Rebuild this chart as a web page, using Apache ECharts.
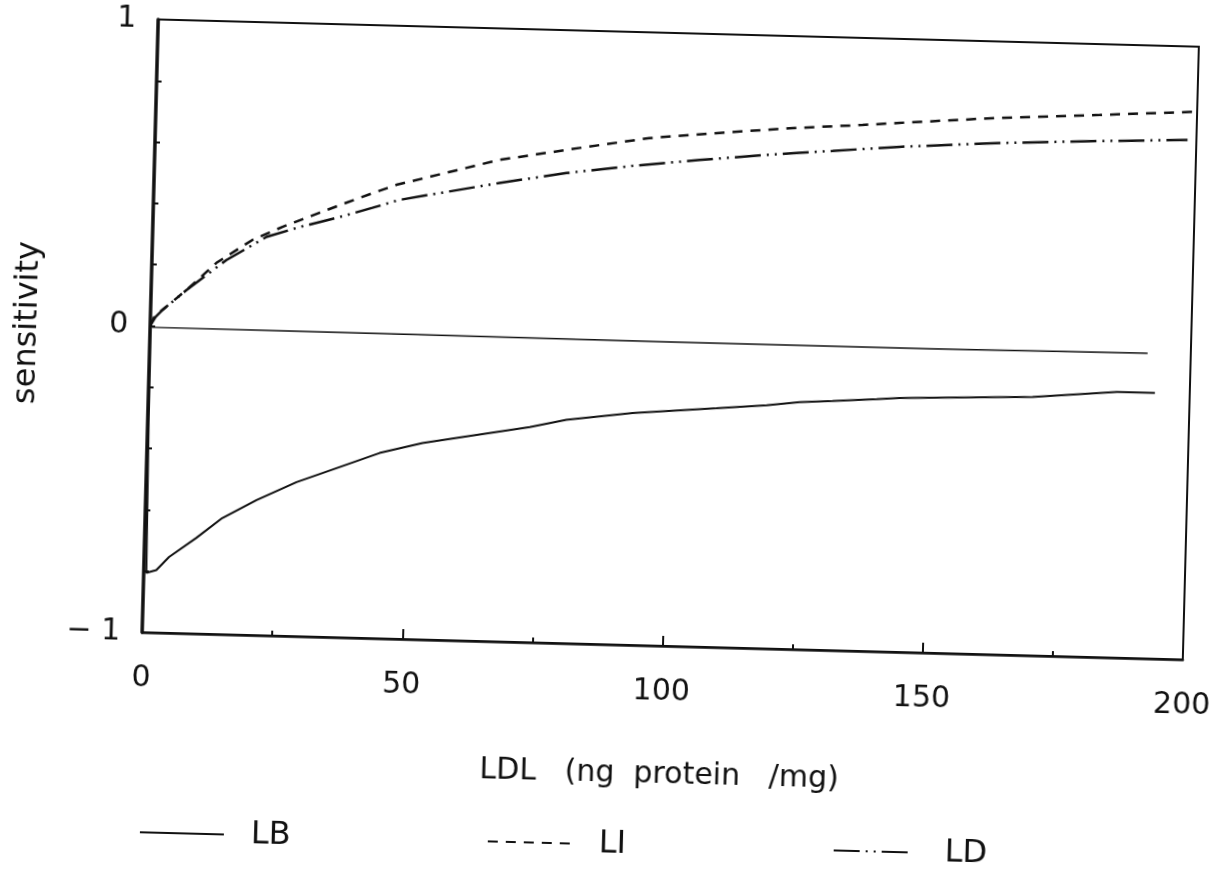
<!DOCTYPE html>
<html>
	<head>
		<meta charset="UTF-8">
		<title>sensitivity</title>
		<style>
			html, body { margin: 0; padding: 0; background: #fff; overflow: hidden; }
			/* the scan is tilted a little, so the whole chart is too */
			#chart { width: 1226px; height: 876px; transform: rotate(1.5deg); transform-origin: 671px 339.5px; }
		</style>
	</head>
	<body>
		<div id="chart"></div>

		<script type="text/javascript" src="https://cdn.jsdelivr.net/npm/echarts@6.0.0/dist/echarts.min.js"></script>
		<script type="text/javascript">
			// values: [LDL, sensitivity]
			var lbData = [[0, 0], [0.5, -0.806], [2.4, -0.796], [4.8, -0.752], [9.9, -0.688], [14.8, -0.621], [21.3, -0.559],
				[28.9, -0.497], [36.5, -0.448], [44.7, -0.395], [52.9, -0.359], [60.5, -0.336], [73.4, -0.298], [80.4, -0.271],
				[93.1, -0.243], [109.2, -0.220], [118.8, -0.206], [125.1, -0.193], [131.4, -0.187], [139.9, -0.177],
				[144.3, -0.171], [163.5, -0.160], [169.8, -0.157], [186.0, -0.133], [193.3, -0.133]];
			var liData = [[0, 0], [0.75, 0.03], [2.25, 0.053], [6.8, 0.12], [12.4, 0.211], [19.2, 0.289], [24.9, 0.334],
				[31.9, 0.383], [39.5, 0.435], [46.6, 0.481], [66.2, 0.571], [81.6, 0.617], [94.9, 0.655], [108.4, 0.678],
				[122.4, 0.700], [135.8, 0.716], [142.9, 0.726], [162.1, 0.751], [181.3, 0.769], [199.1, 0.787]];
			var ldData = [[0, 0], [1, 0.03], [2.3, 0.053], [6.8, 0.12], [14.3, 0.221], [21.9, 0.300], [28.2, 0.335],
				[35.8, 0.371], [42.1, 0.404], [47.2, 0.432], [66.4, 0.496], [79.2, 0.534], [91.8, 0.563], [104.7, 0.588],
				[117.5, 0.610], [123.8, 0.620], [130.2, 0.629], [143.0, 0.648], [162.2, 0.669], [181.4, 0.684], [198.3, 0.695]];
			// the flat line near zero (not in the legend)
			var zeroData = [[0, 0], [0.5, -0.004], [50, -0.006], [100, -0.008], [150, -0.008], [191.7, -0.004]];

			var yTickValues = [-1, 0, 1];
			var yTickLabels = ['− 1', '0', '1'];

			var font = "'DejaVu Sans'";
			var ink = '#111';

			var myChart = echarts.init(document.getElementById('chart'));

			function legendAt(name, left, w) {
				return {
					data: [name],
					left: left,
					top: 830,
					padding: 0,
					itemWidth: w,
					itemHeight: 14,
					selectedMode: false,
					itemStyle: { opacity: 0 }, // hide the circle, keep the line
					textStyle: { fontFamily: font, fontSize: 32, color: ink, padding: [0, 0, 0, 106 - w] }
				};
			}

			var option = {
				backgroundColor: '#fff',
				animation: false,
				grid: {
					left: 150,
					top: 33,
					right: 35,
					bottom: 230,
					show: true,
					borderColor: ink,
					borderWidth: 2
				},
				legend: [legendAt('LB', 152, 84), legendAt('LI', 500, 84), legendAt('LD', 846, 76)],
				xAxis: {
					type: 'value',
					min: 0,
					max: 200,
					interval: 50,
					name: 'LDL   (ng  protein   /mg)',
					nameLocation: 'middle',
					nameGap: 114,
					nameTextStyle: { fontFamily: font, fontSize: 30, color: ink },
					axisLine: { onZero: false, lineStyle: { color: ink, width: 2.5 } },
					axisTick: { inside: true, length: 10, lineStyle: { color: ink, width: 2 } },
					minorTick: { show: true, splitNumber: 2, length: 5, lineStyle: { color: ink, width: 2 } },
					axisLabel: { margin: 31, fontFamily: font, fontSize: 30, color: ink },
					splitLine: { show: false }
				},
				yAxis: {
					type: 'value',
					min: -1,
					max: 1,
					interval: 0.2,
					name: 'sensitivity',
					nameLocation: 'middle',
					nameGap: 106,
					nameTextStyle: { fontFamily: font, fontSize: 32, color: ink },
					axisLine: { onZero: false, lineStyle: { color: ink, width: 3.5 } },
					axisTick: { inside: true, length: 5, lineStyle: { color: ink, width: 2 } },
					axisLabel: {
						margin: 22,
						fontFamily: font,
						fontSize: 30,
						color: ink,
						formatter: function(v) {
							for (var i = 0; i < yTickValues.length; i++) {
								if (Math.abs(v - yTickValues[i]) < 1e-6) return yTickLabels[i];
							}
							return '';
						}
					},
					splitLine: { show: false }
				},
				series: [
					{
						name: 'LB',
						type: 'line',
						symbol: 'none',
						data: lbData,
						lineStyle: { color: ink, width: 2, type: 'solid' },
						itemStyle: { color: ink }
					},
					{
						name: 'LI',
						type: 'line',
						symbol: 'none',
						data: liData,
						lineStyle: { color: ink, width: 2.5, type: [10, 8] },
						itemStyle: { color: ink }
					},
					{
						name: 'LD',
						type: 'line',
						symbol: 'none',
						data: ldData,
						lineStyle: { color: ink, width: 2.5, type: [26, 6, 2, 6, 2, 6] },
						itemStyle: { color: ink }
					},
					{
						name: 'zero',
						type: 'line',
						symbol: 'none',
						data: zeroData,
						lineStyle: { color: ink, width: 1.5, type: 'solid' },
						itemStyle: { color: ink }
					}
				]
			};

			myChart.setOption(option);
		</script>
	</body>
</html>
